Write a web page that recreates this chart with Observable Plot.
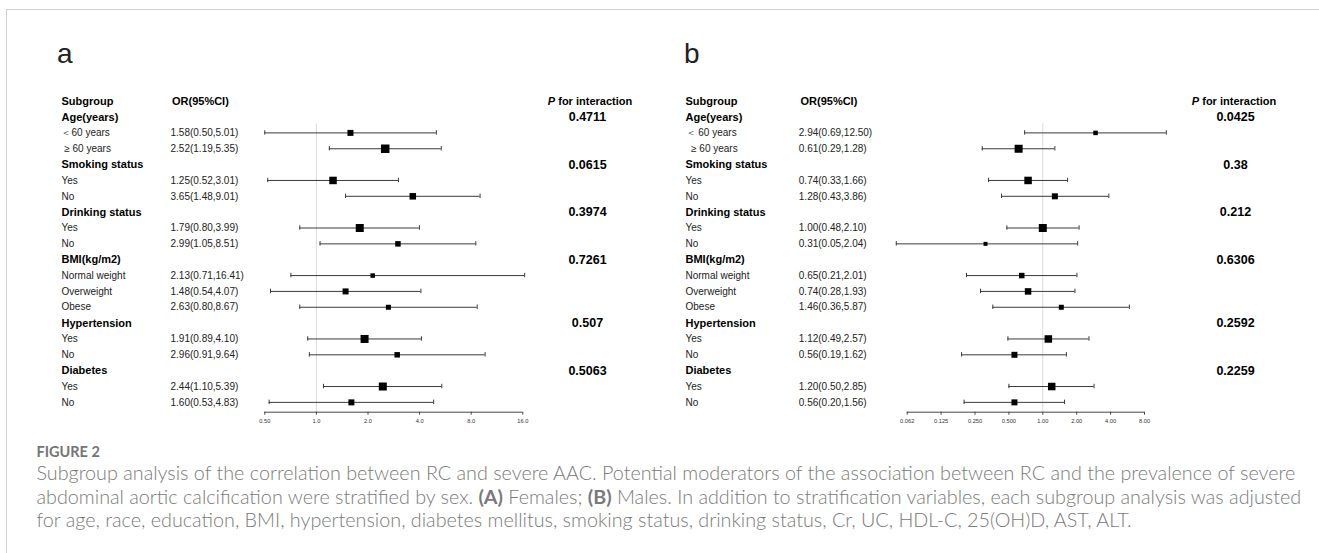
<!DOCTYPE html>
<html><head><meta charset="utf-8">
<script src="https://cdn.jsdelivr.net/npm/d3@7"></script>
<script src="https://cdn.jsdelivr.net/npm/@observablehq/plot@0.6"></script>
<style>
body{margin:0;background:#fff;}
#page{position:relative;width:1319px;height:553px;overflow:hidden;background:#fff;}
#border{position:absolute;left:6px;top:9px;width:1400px;height:600px;border-top:1px solid #d0d0d0;border-left:1px solid #d0d0d0;}
.panel{position:absolute;top:0;}
#overlay{position:absolute;left:0;top:0;}
</style></head>
<body>
<div id="page">
  <div id="border"></div>
  <div id="pa" class="panel" style="left:0px"></div>
  <div id="pb" class="panel" style="left:660px"></div>
  <svg id="overlay" width="1319" height="553"></svg>
</div>
<script>
// ---------------- data ----------------
const groupNames = ["Age(years)", "Smoking status", "Drinking status", "BMI(kg/m2)", "Hypertension", "Diabetes"];
const groupOf = [0, 0, 1, 1, 2, 2, 3, 3, 3, 4, 4, 5, 5];
const subLabelsA = ["＜60 years", " ≥ 60 years", "Yes", "No", "Yes", "No", "Normal weight", "Overweight", "Obese", "Yes", "No", "Yes", "No"];
const subLabelsB = ["＜ 60 years", "  ≥ 60 years", "Yes", "No", "Yes", "No", "Normal weight", "Overweight", "Obese", "Yes", "No", "Yes", "No"];

const orA = [1.58, 2.52, 1.25, 3.65, 1.79, 2.99, 2.13, 1.48, 2.63, 1.91, 2.96, 2.44, 1.60];
const loA = [0.50, 1.19, 0.52, 1.48, 0.80, 1.05, 0.71, 0.54, 0.80, 0.89, 0.91, 1.10, 0.53];
const hiA = [5.01, 5.35, 3.01, 9.01, 3.99, 8.51, 16.41, 4.07, 8.67, 4.10, 9.64, 5.39, 4.83];
const weightA = [6, 8.5, 7.5, 6.5, 8, 5.5, 4.5, 6, 5, 8, 5.5, 8, 6];
const pA = ["0.4711", "0.0615", "0.3974", "0.7261", "0.507", "0.5063"];

const orB = [2.94, 0.61, 0.74, 1.28, 1.00, 0.31, 0.65, 0.74, 1.46, 1.12, 0.56, 1.20, 0.56];
const loB = [0.69, 0.29, 0.33, 0.43, 0.48, 0.05, 0.21, 0.28, 0.36, 0.49, 0.19, 0.50, 0.20];
const hiB = [12.50, 1.28, 1.66, 3.86, 2.10, 2.04, 2.01, 1.93, 5.87, 2.57, 1.62, 2.85, 1.56];
const weightB = [4.5, 8, 7.5, 6, 8, 4, 5.5, 6.5, 5, 7.5, 6, 7.5, 6];
const pB = ["0.0425", "0.38", "0.212", "0.6306", "0.2592", "0.2259"];

const ticksA = [0.5, 1, 2, 4, 8, 16];
const tickLabelsA = ["0.50", "1.0", "2.0", "4.0", "8.0", "16.0"];
const ticksB = [0.0625, 0.125, 0.25, 0.5, 1, 2, 4, 8];
const tickLabelsB = ["0.062", "0.125", "0.250", "0.500", "1.00", "2.00", "4.00", "8.00"];

// ---------------- build ----------------
function buildRows(labels, or, lo, hi, w, p) {
  const rows = [];
  let i = 1;
  groupNames.forEach((g, gi) => {
    rows.push({type: "group", label: g, p: p[gi], i: i++});
    groupOf.forEach((gg, k) => {
      if (gg === gi) rows.push({type: "sub", label: labels[k], or: or[k], lo: lo[k], hi: hi[k], w: w[k], i: i++});
    });
  });
  return rows;
}

function panel(cfg) {
  const rows = buildRows(cfg.labels, cfg.or, cfg.lo, cfg.hi, cfg.w, cfg.p);
  const subs = rows.filter(d => d.type === "sub");
  const grps = rows.filter(d => d.type === "group");
  const lastRow = rows.length;
  const yMax = lastRow + 0.62;
  const firstSub = subs[0].i;
  const frameRight = cfg.width - cfg.mr;
  const tickMap = new Map(cfg.ticks.map((t, k) => [t, cfg.tickLabels[k]]));
  const fmt = v => v.toFixed(2);
  const header = [{i: 0}];
  const chart = Plot.plot({
    width: cfg.width, height: 430,
    marginLeft: cfg.ml, marginRight: cfg.mr, marginTop: 0, marginBottom: 18.3,
    style: {fontFamily: "'Liberation Sans', Arial, sans-serif", background: "transparent", overflow: "visible", color: "#222"},
    x: {type: "log", base: 2, domain: cfg.domain, axis: null},
    y: {domain: [0, yMax], range: [100.7, 411.7], axis: null},
    r: {type: "identity"},
    marks: [
      Plot.ruleX([1], {y1: firstSub - 0.57, y2: yMax, stroke: "#d9d9d9", strokeWidth: 1}),
      Plot.ruleY([yMax], {stroke: "#444", strokeWidth: 1}),
      Plot.axisX(cfg.ticks, {tickSize: 3, tickPadding: 4, fontSize: 5.7, stroke: "#444", fill: "#333",
        tickFormat: d => tickMap.get(d), label: null}),
      Plot.ruleY(subs, {y: "i", x1: "lo", x2: "hi", stroke: "#3a3a3a", strokeWidth: 1}),
      Plot.ruleX(subs, {x: "lo", y1: d => d.i - 0.14, y2: d => d.i + 0.14, stroke: "#3a3a3a", strokeWidth: 1}),
      Plot.ruleX(subs, {x: "hi", y1: d => d.i - 0.14, y2: d => d.i + 0.14, stroke: "#3a3a3a", strokeWidth: 1}),
      Plot.dot(subs, {x: "or", y: "i", r: d => d.w / Math.sqrt(Math.PI), symbol: "square", fill: "#000"}),
      // table text
      Plot.text(header, {y: "i", text: () => "Subgroup", frameAnchor: "left", textAnchor: "start", dx: cfg.labelX - cfg.ml, fontSize: 11, fontWeight: "bold", fill: "#000"}),
      Plot.text(header, {y: "i", text: () => "OR(95%CI)", frameAnchor: "left", textAnchor: "start", dx: cfg.orHeadX - cfg.ml, fontSize: 11, fontWeight: "bold", fill: "#000"}),
      Plot.text(header, {y: "i", text: () => "P for interaction", frameAnchor: "right", textAnchor: "middle", dx: cfg.pHeadX - frameRight, fontSize: 11, fontWeight: "bold", fill: "#000"}),
      Plot.text(grps, {y: "i", text: "label", frameAnchor: "left", textAnchor: "start", dx: cfg.labelX - cfg.ml, fontSize: 11, fontWeight: "bold", fill: "#000"}),
      Plot.text(grps, {y: "i", text: "p", frameAnchor: "right", textAnchor: "middle", dx: cfg.pX - frameRight, fontSize: 12.5, fontWeight: "bold", fill: "#000"}),
      Plot.text(subs, {y: "i", text: "label", frameAnchor: "left", textAnchor: "start", dx: cfg.labelX - cfg.ml, fontSize: 10, fill: "#222"}),
      Plot.text(subs, {y: "i", text: d => `${fmt(d.or)}(${fmt(d.lo)},${fmt(d.hi)})`, frameAnchor: "left", textAnchor: "start", dx: cfg.orX - cfg.ml, fontSize: 10, fill: "#222"})
    ]
  });
  d3.select(chart).selectAll("text").filter(function() { return this.textContent === "P for interaction"; })
    .each(function() {
      const t = d3.select(this);
      t.text("");
      t.append("tspan").attr("font-style", "italic").text("P");
      t.append("tspan").text(" for interaction");
    });
  return chart;
}

document.getElementById("pa").append(panel({
  labels: subLabelsA, or: orA, lo: loA, hi: hiA, w: weightA, p: pA,
  width: 660, ml: 264.3, mr: 660 - 522.3, domain: [0.5, 16],
  ticks: ticksA, tickLabels: tickLabelsA,
  labelX: 61, orX: 170, orHeadX: 171.5, pX: 587, pHeadX: 589.5
}));
document.getElementById("pb").append(panel({
  labels: subLabelsB, or: orB, lo: loB, hi: hiB, w: weightB, p: pB,
  width: 659, ml: 906.7 - 660, mr: 659 - (1144 - 660), domain: [0.0625, 8],
  ticks: ticksB, tickLabels: tickLabelsB,
  labelX: 685 - 660, orX: 798.3 - 660, orHeadX: 800 - 660, pX: 1235 - 660, pHeadX: 1233.5 - 660
}));

// ---------------- labels & caption ----------------
const ov = d3.select("#overlay");
ov.append("text").attr("x", 57).attr("y", 63).attr("font-family", "'Liberation Sans', Arial, sans-serif").attr("font-size", 28).attr("fill", "#222").text("a");
ov.append("text").attr("x", 684).attr("y", 63).attr("font-family", "'Liberation Sans', Arial, sans-serif").attr("font-size", 28).attr("fill", "#222").text("b");

const capFont = "Lato, 'Open Sans', sans-serif";
ov.append("text").attr("x", 36.5).attr("y", 456.7).attr("font-family", capFont).attr("font-size", 14.5).attr("font-weight", 700).attr("fill", "#757575").text("FIGURE 2");

const capLines = [
  [["Subgroup analysis of the correlation between RC and severe AAC. Potential moderators of the association between RC and the prevalence of severe", false]],
  [["abdominal aortic calcification were stratified by sex. ", false], ["(A)", true], [" Females; ", false], ["(B)", true], [" Males. In addition to stratification variables, each subgroup analysis was adjusted", false]],
  [["for age, race, education, BMI, hypertension, diabetes mellitus, smoking status, drinking status, Cr, UC, HDL-C, 25(OH)D, AST, ALT.", false]]
];
const capBase = [479.8, 503.6, 527.4];
const capEls = capLines.map((parts, li) => {
  const t = ov.append("text").attr("x", 36.5).attr("y", capBase[li]).attr("font-family", capFont).attr("font-size", 17).attr("fill", "#7a7a7a");
  parts.forEach(([s, b]) => t.append("tspan").attr("font-weight", b ? 700 : 300).text(s));
  return t;
});
const w1 = capEls[0].node().getComputedTextLength();
const fs = 17 * 1260 / w1;
capEls.forEach(t => t.attr("font-size", fs));
</script>
</body></html>
